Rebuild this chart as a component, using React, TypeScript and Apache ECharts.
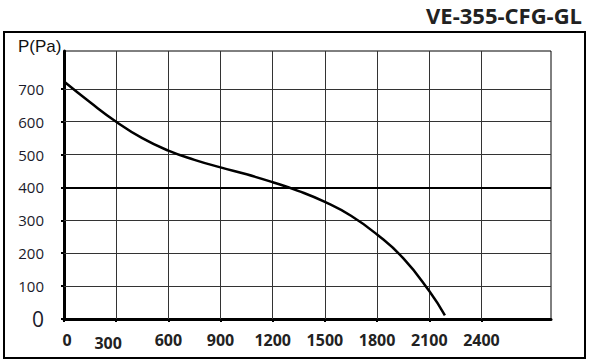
import React, { useEffect, useRef } from "react";
import * as echarts from "echarts";

const title = "VE-355-CFG-GL";
const yName = "P(Pa)";
const flow = [0, 150, 300, 450, 600, 750, 900, 1050, 1200, 1350, 1500, 1650, 1800, 1950, 2100, 2190];
const pressure = [722, 659, 600, 550, 512, 484, 461, 440, 416, 389, 356, 314, 257, 185, 85, 11];
const xTicks = [0, 300, 600, 900, 1200, 1500, 1800, 2100, 2400];
const yTicks = [0, 100, 200, 300, 400, 500, 600, 700];
const xMax = 2800;
const yMax = 815;
const thickLine = 400;

export default function App() {
  const ref = useRef<HTMLDivElement>(null);
  useEffect(() => {
    if (!ref.current) return;
    const chart = echarts.init(ref.current, null, { renderer: "svg" });
    const gridLines: any[] = [];
    xTicks.filter((v) => v !== 0).forEach((v) => gridLines.push({ xAxis: v }));
    yTicks
      .filter((v) => v !== 0)
      .forEach((v) =>
        gridLines.push({
          yAxis: v,
          lineStyle: v === thickLine ? { color: "#000", width: 2 } : undefined,
        })
      );
    chart.setOption({
      animation: false,
      backgroundColor: "#fff",
      grid: {
        left: 64,
        top: 51,
        right: 39,
        bottom: 45,
        show: true,
        borderColor: "#000",
        borderWidth: 1,
        backgroundColor: "transparent",
      },
      graphic: [
        {
          type: "rect",
          shape: { x: 4, y: 32, width: 581, height: 326 },
          style: { fill: "none", stroke: "#000", lineWidth: 2 },
          silent: true,
        },
        {
          type: "text",
          right: 8,
          top: 4,
          style: {
            text: title,
            font: "bold 22px 'Open Sans'",
            fill: "#222",
          },
        },
        {
          type: "text",
          left: 18,
          top: 38,
          style: {
            text: yName,
            font: "17px 'Liberation Sans'",
            fill: "#111",
          },
        },
      ],
      xAxis: {
        type: "value",
        min: 0,
        max: xMax,
        splitLine: { show: false },
        axisLine: { show: true, lineStyle: { color: "#000", width: 3 } },
        axisTick: {
          show: true,
          customValues: xTicks,
          length: 3,
          inside: false,
          lineStyle: { color: "#000", width: 2 },
        },
        axisLabel: {
          customValues: xTicks,
          margin: 13,
          formatter: (v: number) =>
            v === 300 ? "{s|" + v + "}" : v === 0 ? "{z|" + v + "}" : "{n|" + v + "}",
          rich: {
            n: { fontFamily: "Open Sans", fontWeight: "bold", fontSize: 16, color: "#222" },
            s: {
              fontFamily: "Open Sans",
              fontWeight: "bold",
              fontSize: 16,
              color: "#222",
              padding: [3, 16, 0, 0],
            },
            z: {
              fontFamily: "Open Sans",
              fontWeight: "bold",
              fontSize: 16,
              color: "#222",
              padding: [0, 0, 0, 6],
            },
          },
        },
      },
      yAxis: {
        type: "value",
        min: 0,
        max: yMax,
        splitLine: { show: false },
        axisLine: { show: true, lineStyle: { color: "#000", width: 3 } },
        axisTick: {
          show: true,
          customValues: yTicks,
          length: 3,
          lineStyle: { color: "#000", width: 2 },
        },
        axisLabel: {
          customValues: yTicks,
          margin: 20,
          formatter: (v: number) => (v === 0 ? "{z|0}" : "{n|" + v + "}"),
          rich: {
            n: { fontFamily: "Open Sans", fontSize: 15, color: "#1a1a2a" },
            z: { fontFamily: "Open Sans", fontSize: 21, color: "#1a1a2a" },
          },
        },
      },
      series: [
        {
          type: "line",
          data: [],
          silent: true,
          z: 1,
          markLine: {
            silent: true,
            symbol: ["none", "none"],
            label: { show: false },
            lineStyle: { color: "#333", width: 1, type: "solid" },
            emphasis: { disabled: true },
            data: gridLines,
          },
        },
        {
          type: "line",
          z: 5,
          data: flow.map((f, i) => [f, pressure[i]]),
          smooth: 0.5,
          showSymbol: false,
          lineStyle: { color: "#000", width: 2.5 },
        },
      ],
    });
    return () => chart.dispose();
  }, []);
  return (
    <div
      ref={ref}
      style={{ position: "fixed", left: 0, top: 0, width: 590, height: 364 }}
    />
  );
}
